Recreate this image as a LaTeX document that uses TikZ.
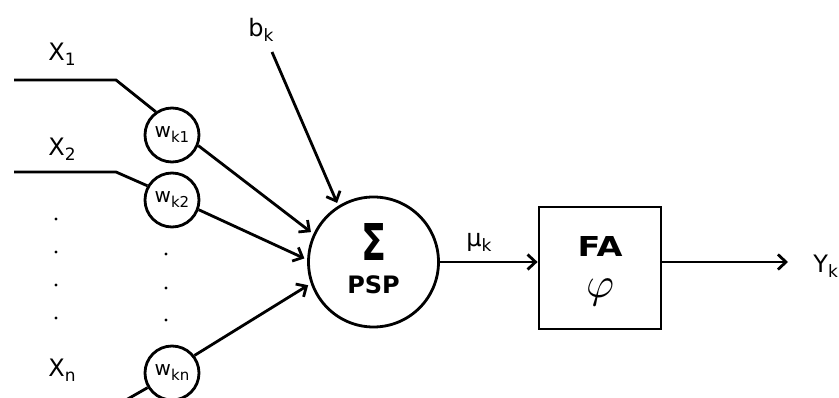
\documentclass[tikz,border=0pt]{standalone}
\usepackage{fontspec}
\setmainfont{DejaVu Sans}
\usepackage{graphicx}
\usetikzlibrary{arrows.meta}
\newcommand{\mysub}[2][17]{\raisebox{-5pt}{\fontsize{#1}{#1}\selectfont #2}}
\begin{document}
\begin{tikzpicture}[x=1pt,y=-1pt,line width=2.8pt,
  wc/.style={circle,draw,minimum size=54pt,inner sep=0pt,font=\fontsize{20}{20}\selectfont},
  lbl/.style={inner sep=0pt,anchor=base west,font=\fontsize{24}{24}\selectfont},
  arr/.style={-{Straight Barb[length=8pt,width=15pt]}},
  sarr/.style={arr,shorten >=3pt}]
\useasboundingbox (0,0) rectangle (839,398);
% weight circles
\node[wc] (w1) at (172,135) {w\mysub[15]{k1}};
\node[wc] (w2) at (172,200) {w\mysub[15]{k2}};
\node[wc] (wn) at (172,373) {w\mysub[15]{kn}};
% summation
\node[circle,draw,minimum size=130pt,inner sep=0pt] (sig) at (373.5,262) {};
\node[inner sep=0pt,anchor=base] (sigma) at (373.5,261) {\resizebox{25pt}{37pt}{\bfseries Σ}};
\node[inner sep=0pt,anchor=base,font=\fontsize{24}{24}\selectfont\bfseries] (psp) at (373.5,294) {PSP};
% activation box
\node[draw,minimum size=122pt,inner sep=0pt] (fa) at (600,268) {};
\node[inner sep=0pt,anchor=base] (fat) at (600,257) {\resizebox{45pt}{20pt}{\bfseries FA}};
\node[inner sep=0pt] (phi) at (600,292) {\resizebox{28pt}{!}{$\varphi$}};
% labels
\node[lbl] (x1) at (47,61) {X\mysub{1}};
\node[lbl] (x2) at (47,156) {X\mysub{2}};
\node[lbl] (xn) at (47,377) {X\mysub{n}};
\node[lbl] (bk) at (247,37) {b\mysub{k}};
\node[lbl] (mu) at (465,247) {µ\mysub{k}};
\node[lbl] (yk) at (812,273) {Y\mysub{k}};
% coordinates
\coordinate (a1) at (14,80);
\coordinate (b1) at (116,80);
\coordinate (a2) at (14,172);
\coordinate (b2) at (116,172);
\coordinate (cn) at (126,400);
\coordinate (bks) at (272,52);
\coordinate (out) at (788,262);
% input lines
\draw (a1) -- (b1) -- (w1.125);
\draw (a2) -- (b2) -- (w2.150);
\draw (cn) -- (wn.211);
% arrows into sum
\draw[sarr] (w1.-22) -- (sig.155);
\draw[sarr] (w2.-20) -- (sig.178);
\draw[sarr] (wn.38) -- (sig.199);
\draw[sarr] (bks) -- (sig.122);
% output arrows
\draw[arr] (sig.east) -- (sig.east -| fa.west);
\draw[arr] (sig.east -| fa.east) -- (out);
% dots
\foreach \y in {219,252,285,318} \fill (56,\y) circle (1.6pt);
\foreach \y in {254,288,320} \fill (166,\y) circle (1.6pt);
\end{tikzpicture}
\end{document}
